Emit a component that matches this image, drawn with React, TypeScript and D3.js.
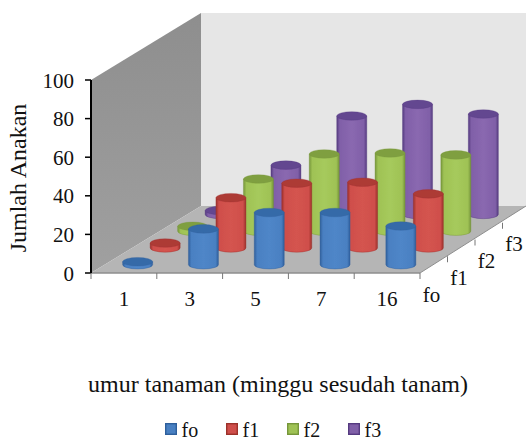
import React from "react";
import * as d3 from "d3";

const categories = ["1", "3", "5", "7", "16"];
const seriesNames = ["fo", "f1", "f2", "f3"];
const fo = [1.5, 18.5, 27, 27, 20];
const f1 = [2.5, 26, 33.5, 34, 28];
const f2 = [2.5, 27, 40, 40.5, 39.5];
const f3 = [2, 25.5, 51, 57, 52];
const seriesValues = [fo, f1, f2, f3];
const yTicks = [0, 20, 40, 60, 80, 100];
const shades = [
  { dark: "#2f5f9c", mid: "#4f86c8", light: "#4a80c2", top: "#356aa8" },
  { dark: "#9c302c", mid: "#d4544f", light: "#cf4f4b", top: "#ad3a36" },
  { dark: "#76963a", mid: "#a6ca5c", light: "#9fc255", top: "#7f9f40" },
  { dark: "#553b80", mid: "#8a68b0", light: "#8060a8", top: "#634690" },
];

const FRONT_LEFT = 91, FRONT_RIGHT = 420, FLOOR_Y = 273, TOP_Y = 80;
const DX = 110, DY = -67, RX = 15, RY = 4.3;

const x = d3.scaleBand<string>().domain(categories).range([FRONT_LEFT, FRONT_RIGHT]);
const y = d3.scaleLinear().domain([0, 100]).range([FLOOR_Y, TOP_Y]);
const depth = d3.scaleBand<string>().domain(seriesNames).range([0, 1]);
const font = "'Liberation Serif', 'Times New Roman', serif";

const pt = (px: number, py: number, d: number): [number, number] => [px + DX * d, py + DY * d];
const poly = (p: [number, number][]) => p.map((q) => q.join(",")).join(" ");

function Cylinder({ cat, s, v }: { cat: string; s: number; v: number }) {
  const d = depth(seriesNames[s])! + depth.bandwidth() / 2;
  const [cx, by] = pt(x(cat)! + x.bandwidth() / 2, y(0), d);
  const ty = by - (y(0) - y(v));
  const path = `M${cx - RX},${ty} L${cx - RX},${by} A${RX},${RY} 0 0 0 ${cx + RX},${by} L${cx + RX},${ty} Z`;
  return (
    <g>
      <path d={path} fill={`url(#cyl${s})`} stroke={shades[s].dark} strokeWidth={0.4} />
      <ellipse cx={cx} cy={ty} rx={RX} ry={RY} fill={shades[s].top} stroke={shades[s].dark} strokeWidth={0.3} />
    </g>
  );
}

export default function App() {
  const depths = d3.range(seriesNames.length).reverse();
  const depthTicks = d3.range(0, seriesNames.length + 1).map((i) => i / seriesNames.length);
  return (
    <svg width={526} height={440} style={{ position: "absolute", left: 0, top: 0, background: "#fff" }} fontFamily={font}>
      <defs>
        {shades.map((c, i) => (
          <linearGradient key={i} id={`cyl${i}`} x1="0" x2="1" y1="0" y2="0">
            <stop offset="0" stopColor={c.dark} />
            <stop offset="0.1" stopColor={c.light} />
            <stop offset="0.5" stopColor={c.mid} />
            <stop offset="0.9" stopColor={c.light} />
            <stop offset="1" stopColor={c.dark} />
          </linearGradient>
        ))}
        <linearGradient id="leftWall" x1="0" x2="0" y1="0" y2="1">
          <stop offset="0" stopColor="#8e8e8e" />
          <stop offset="1" stopColor="#a0a0a0" />
        </linearGradient>
        <filter id="soft" x="-5%" y="-5%" width="110%" height="110%">
          <feGaussianBlur stdDeviation="0.45" />
        </filter>
      </defs>
      <g filter="url(#soft)">
        <polygon
          points={poly([pt(FRONT_LEFT, TOP_Y, 1), [526, TOP_Y + DY], [526, FLOOR_Y + DY], pt(FRONT_LEFT, FLOOR_Y, 1)])}
          fill="#e6e6e6"
        />
        <polygon
          points={poly([[FRONT_LEFT, TOP_Y], pt(FRONT_LEFT, TOP_Y, 1), pt(FRONT_LEFT, FLOOR_Y, 1), [FRONT_LEFT, FLOOR_Y]])}
          fill="url(#leftWall)"
        />
        <polygon
          points={poly([[FRONT_LEFT, FLOOR_Y], [FRONT_RIGHT, FLOOR_Y], [526, FLOOR_Y + DY], pt(FRONT_LEFT, FLOOR_Y, 1)])}
          fill="#b5b5b5"
        />
        <line x1={FRONT_LEFT} x2={FRONT_RIGHT} y1={FLOOR_Y} y2={FLOOR_Y} stroke="#8e8e8e" strokeWidth={1.5} />
        <line x1={FRONT_RIGHT} x2={526} y1={FLOOR_Y} y2={FLOOR_Y + DY} stroke="#8e8e8e" strokeWidth={1} />

        {/* ticks */}
        <line x1={FRONT_LEFT} x2={FRONT_LEFT} y1={TOP_Y} y2={FLOOR_Y} stroke="#000" strokeWidth={2} />
        {yTicks.map((t) => (
          <line key={t} x1={FRONT_LEFT - 6} x2={FRONT_LEFT} y1={y(t)} y2={y(t)} stroke="#000" strokeWidth={1.5} />
        ))}
        {[...categories.map((c) => x(c)!), FRONT_RIGHT].map((px, i) => (
          <line key={i} x1={px} x2={px} y1={FLOOR_Y} y2={FLOOR_Y + 6} stroke="#777" strokeWidth={1} />
        ))}
        {depthTicks.slice(1, -1).map((d, i) => {
          const [px, py] = pt(FRONT_RIGHT, FLOOR_Y, d);
          return <line key={i} x1={px} x2={px} y1={py} y2={py + 6} stroke="#777" strokeWidth={1} />;
        })}

        {/* cylinders, back to front */}
        {depths.map((s) =>
          categories.map((c, i) => <Cylinder key={`${s}-${c}`} cat={c} s={s} v={seriesValues[s][i]} />)
        )}

        {/* legend swatches */}
        {seriesNames.map((n, i) => (
          <rect key={n} x={165.7 + 61 * i} y={423.7} width={10.6} height={10.6} fill={shades[i].light} stroke={shades[i].dark} strokeWidth={1.4} />
        ))}
      </g>

      {/* labels */}
      {yTicks.map((t) => (
        <text key={t} x={74} y={y(t)} dy="0.36em" textAnchor="end" fontSize={21} fill="#111">{t}</text>
      ))}
      {categories.map((c) => (
        <text key={c} x={x(c)! + x.bandwidth() / 2} y={FLOOR_Y + 33} textAnchor="middle" fontSize={21} fill="#111">{c}</text>
      ))}
      {seriesNames.map((n) => {
        const [px, py] = pt(FRONT_RIGHT, FLOOR_Y, depth(n)! + depth.bandwidth() / 2);
        return <text key={n} x={px - 11} y={py + 37} fontSize={21} fill="#111">{n}</text>;
      })}
      <text transform="translate(26,178) rotate(-90)" textAnchor="middle" fontSize={24} fill="#111">Jumlah Anakan</text>
      <text x={278} y={392} textAnchor="middle" fontSize={24} fill="#111">umur tanaman (minggu sesudah tanam)</text>
      {seriesNames.map((n, i) => (
        <text key={n} x={181.5 + 61 * i} y={437} fontSize={20} fill="#111">{n}</text>
      ))}
    </svg>
  );
}
